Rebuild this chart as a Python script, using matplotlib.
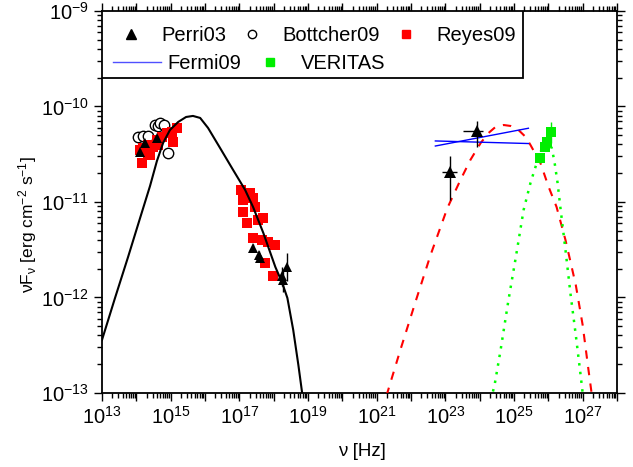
import numpy as np
import matplotlib
matplotlib.use('Agg')
import matplotlib.pyplot as plt
from matplotlib.ticker import LogLocator, FuncFormatter, NullFormatter
from matplotlib.lines import Line2D
from matplotlib.patches import Rectangle

plt.rcParams['font.family'] = ['Liberation Sans', 'DejaVu Sans']
plt.rcParams['mathtext.fontset'] = 'custom'
plt.rcParams['mathtext.rm'] = 'Liberation Sans'
plt.rcParams['mathtext.it'] = 'Liberation Sans'
plt.rcParams['mathtext.default'] = 'regular'

# ---------------- data (log10 values) ----------------
# Synchrotron model (black solid)
sync_lognu = [13.00, 13.38, 13.76, 14.11, 14.40, 14.60, 14.78, 14.98, 15.22, 15.45,
              15.65, 15.86, 16.09, 16.44, 16.82, 17.17, 17.40, 17.70, 18.05,
              18.25, 18.40, 18.57, 18.72, 18.83, 18.90]
sync_logF = [-12.445, -12.005, -11.576, -11.168, -10.832, -10.571, -10.382, -10.246, -10.162, -10.110,
             -10.099, -10.120, -10.225, -10.435, -10.665, -10.874, -11.052, -11.325, -11.681,
             -11.848, -12.005, -12.340, -12.707, -13.000, -13.300]

# Inverse Compton model (red dashed)
ic_lognu = [21.20, 21.31, 21.69, 22.13, 22.57, 23.06, 23.44, 23.73, 24.03, 24.26, 24.46,
            24.70, 24.90, 25.13, 25.34, 25.48, 25.77, 26.01, 26.24, 26.50, 26.80,
            27.00, 27.17, 27.26, 27.30]
ic_logF = [-13.20, -13.000, -12.550, -12.047, -11.555, -11.063, -10.770, -10.560, -10.382, -10.277, -10.215,
           -10.194, -10.204, -10.246, -10.319, -10.403, -10.592, -10.843, -11.052, -11.398, -11.869,
           -12.288, -12.759, -13.000, -13.200]

# VERITAS-region model (green dotted)
vhe_lognu = [24.32, 24.43, 24.61, 24.84, 25.05, 25.28, 25.48, 25.69, 25.83, 25.98, 26.10,
             26.18, 26.27, 26.36, 26.50, 26.65, 26.80, 26.94, 27.00, 27.03]
vhe_logF = [-13.073, -12.927, -12.550, -12.026, -11.586, -11.084, -10.801, -10.560, -10.424, -10.372, -10.435,
            -10.581, -10.801, -11.084, -11.503, -11.974, -12.393, -12.812, -13.000, -13.200]

# Fermi09 bow-tie (two blue lines)
fermi_lognu = [22.71, 25.42]
fermi_logF_a = [-10.414, -10.228]
fermi_logF_b = [-10.361, -10.388]

# Perri03 (black triangles)
perri_lognu = [14.11, 14.25, 14.60, 17.40, 17.56, 17.61, 18.24, 18.38, 18.28]
perri_logF = [-10.48, -10.38, -10.33, -11.48, -11.55, -11.59, -11.78, -11.68, -11.82]
perri_logF_err = [0.03, 0.03, 0.03, 0.04, 0.04, 0.04, 0.10, 0.15, 0.12]
# Perri03 gamma-ray points with asymmetric errors
perri_g_lognu = [23.15, 23.93]
perri_g_logF = [-10.69, -10.26]
perri_g_lognu_lo = [22.91, 23.52]
perri_g_lognu_hi = [23.35, 24.11]
perri_g_logF_lo = [-10.98, -10.42]
perri_g_logF_hi = [-10.52, -10.15]

# Bottcher09 (open circles)
bott_lognu = [14.06, 14.20, 14.35, 14.55, 14.62, 14.69, 14.81, 14.93]
bott_logF = [-10.32, -10.31, -10.31, -10.19, -10.20, -10.17, -10.19, -10.49]

# Reyes09 (red squares)
reyes_lognu = [14.16, 14.11, 14.34, 14.49, 14.60, 14.75, 14.90, 15.04, 15.19, 14.63, 15.07, 14.40, 14.20, 14.34,
               17.04, 17.31, 17.40, 17.11, 17.11, 17.46, 17.22, 17.55, 17.69, 17.40, 17.66, 17.84, 18.04,
               17.75, 17.99]
reyes_logF = [-10.59, -10.46, -10.49, -10.42, -10.35, -10.32, -10.28, -10.27, -10.23, -10.40, -10.37, -10.51, -10.43, -10.40,
              -10.87, -10.91, -10.96, -10.98, -11.10, -11.05, -11.22, -11.19, -11.17, -11.38, -11.40, -11.42, -11.45,
              -11.64, -11.77]

# VERITAS (green squares)
ver_lognu = [25.77, 25.89, 25.97, 26.09]
ver_logF = [-10.54, -10.42, -10.37, -10.27]
ver_logF_err = [0.05, 0.05, 0.06, 0.11]

# axis ranges and labelled decades
x_decades = (13, 28)
y_decades = (-13, -9)

# ---------------- figure ----------------
fig = plt.figure(figsize=(6.33, 4.67), dpi=100)
ax = fig.add_axes([0.1611, 0.1585, 0.8136, 0.818])

def p(a):
    return 10.0 ** np.asarray(a, dtype=float)

# models
ax.plot(p(sync_lognu), p(sync_logF), color='black', lw=1.5, zorder=4)
ax.plot(p(ic_lognu), p(ic_logF), color='#ff0000', lw=1.5, ls=(0, (4, 4)), zorder=3)
ax.plot(p(vhe_lognu), p(vhe_logF), color='#00ff00', lw=1.8, ls=(0, (1, 2.5)), zorder=3)
ax.plot(p(fermi_lognu), p(fermi_logF_a), color='#0000ff', lw=1.0, zorder=3)
ax.plot(p(fermi_lognu), p(fermi_logF_b), color='#0000ff', lw=1.0, zorder=3)

# Reyes09
rx = p(reyes_lognu); ry = p(reyes_logF)
rerr = np.array([ry * (1 - 10 ** -0.035), ry * (10 ** 0.035 - 1)])
ax.errorbar(rx, ry, yerr=rerr, fmt='s', color='#ff0000', ms=6.5, mew=0,
            elinewidth=0.8, capsize=3, ecolor='#ff0000', zorder=2)

# Bottcher09
ax.plot(p(bott_lognu), p(bott_logF), 'o', mfc='white', mec='black', mew=1.0, ms=7.5, zorder=1)

# Perri03
px_ = p(perri_lognu); py_ = p(perri_logF); pe = np.asarray(perri_logF_err)
perr = np.array([py_ * (1 - 10 ** -pe), py_ * (10 ** pe - 1)])
ax.errorbar(px_, py_, yerr=perr, fmt='^', color='black', ms=7, mew=0,
            elinewidth=1.0, capsize=3, zorder=5)
gx = p(perri_g_lognu); gy = p(perri_g_logF)
gxerr = np.array([gx - p(perri_g_lognu_lo), p(perri_g_lognu_hi) - gx])
gyerr = np.array([gy - p(perri_g_logF_lo), p(perri_g_logF_hi) - gy])
ax.errorbar(gx, gy, xerr=gxerr, yerr=gyerr, fmt='^', color='black', ms=8, mew=0,
            elinewidth=1.0, capsize=4, zorder=5)

# VERITAS
vx = p(ver_lognu); vy = p(ver_logF); ve = np.asarray(ver_logF_err)
verr = np.array([vy * (1 - 10 ** -ve), vy * (10 ** ve - 1)])
ax.errorbar(vx, vy, yerr=verr, fmt='s', color='#00ee00', ms=6.5, mew=0,
            elinewidth=1.0, capsize=3, ecolor='#00ee00', zorder=6)

# axes
ax.set_xscale('log'); ax.set_yscale('log')
ax.set_xlim(10.0 ** x_decades[0], 10.0 ** x_decades[1])
ax.set_ylim(10.0 ** y_decades[0], 10.0 ** y_decades[1])

ax.xaxis.set_major_locator(LogLocator(base=10, numticks=30))
ax.xaxis.set_minor_locator(LogLocator(base=10, subs=np.arange(2, 10), numticks=300))
ax.yaxis.set_major_locator(LogLocator(base=10, numticks=30))
ax.yaxis.set_minor_locator(LogLocator(base=10, subs=np.arange(2, 10), numticks=300))

def xfmt(v, pos):
    e = int(round(np.log10(v)))
    if e < x_decades[0] or e > x_decades[1]:
        return ''
    return r'$10^{%d}$' % e if e % 2 == 1 else ''

def yfmt(v, pos):
    e = int(round(np.log10(v)))
    if e < y_decades[0] or e > y_decades[1]:
        return ''
    return r'$10^{%d}$' % e

ax.xaxis.set_major_formatter(FuncFormatter(xfmt))
ax.yaxis.set_major_formatter(FuncFormatter(yfmt))
ax.xaxis.set_minor_formatter(NullFormatter())
ax.yaxis.set_minor_formatter(NullFormatter())

ax.tick_params(which='both', direction='out', top=True, right=True, labelsize=14.5, width=1.0)
ax.tick_params(which='major', length=6)
ax.tick_params(which='minor', length=3.5)
for s in ax.spines.values():
    s.set_linewidth(1.3)

ax.set_xlabel('ν [Hz]', fontsize=13.5, va='center')
ax.xaxis.set_label_coords(0.505, -0.152)
ax.set_ylabel(r'νF$_{ν}$ [erg cm$^{-2}$ s$^{-1}$]', fontsize=12.5, va='center')
ax.yaxis.set_label_coords(-0.145, 0.44)

# legend: framed box with two rows
frame = Rectangle((0, 0.8246), 0.8175, 0.1754, transform=ax.transAxes,
                  facecolor='white', edgecolor='black', lw=1.3, zorder=10)
ax.add_patch(frame)

h_perri = Line2D([], [], ls='none', marker='^', color='black', ms=7)
h_bott = Line2D([], [], ls='none', marker='o', mfc='white', mec='black', ms=6)
h_reyes = Line2D([], [], ls='none', marker='s', color='#ff0000', ms=6)
h_fermi = Line2D([], [], color='#5050ff', lw=1.0)
h_ver = Line2D([], [], ls='none', marker='s', color='#00ee00', ms=6)

leg1 = ax.legend([h_perri, h_bott, h_reyes], ['Perri03', 'Bottcher09', 'Reyes09'],
                 ncol=3, loc='center left', bbox_to_anchor=(0.0167, 0.9346),
                 borderaxespad=0, borderpad=0, fontsize=14.5, frameon=False,
                 handlelength=2.0, handletextpad=0.5, columnspacing=0.3)
leg1.set_zorder(11)
ax.add_artist(leg1)
leg2 = ax.legend([h_fermi, h_ver], ['Fermi09', 'VERITAS'],
                 ncol=2, loc='center left', bbox_to_anchor=(0.0214, 0.8613),
                 borderaxespad=0, borderpad=0, fontsize=14.5, frameon=False,
                 handlelength=2.4, handletextpad=0.3, columnspacing=0.25)
leg2.set_zorder(11)

fig.savefig('out.png', dpi=100)
